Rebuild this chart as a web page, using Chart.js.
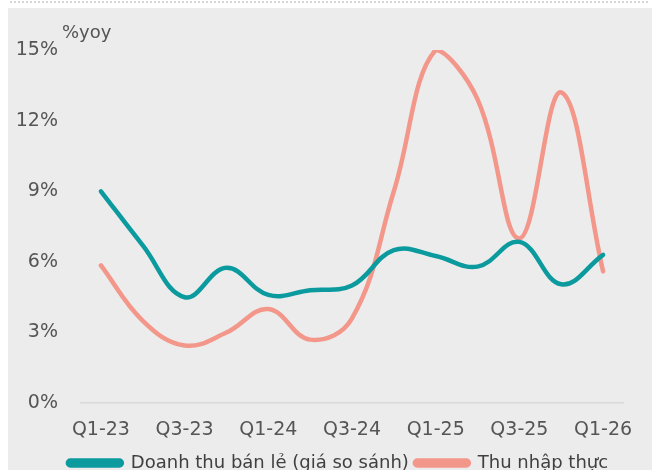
<!DOCTYPE html>
<html>
<head>
<meta charset="utf-8">
<script src="https://cdn.jsdelivr.net/npm/chart.js@4"></script>
<style>
  html, body { margin: 0; padding: 0; background: #ffffff; overflow: hidden; }
  #wrap { width: 661px; height: 482px; }
</style>
</head>
<body>
<div id="wrap"><canvas id="chart"></canvas></div>
<script>
// ==========================
// Data
// ==========================

const quarters = ["Q1-23", "Q2-23", "Q3-23", "Q4-23", "Q1-24", "Q2-24", "Q3-24",
                  "Q4-24", "Q1-25", "Q2-25", "Q3-25", "Q4-25", "Q1-26"];

const retailSales = [9.0, 6.7, 4.5, 5.75, 4.6, 4.8, 5.0, 6.5, 6.25, 5.8, 6.85, 5.05, 6.3];
const realIncome  = [5.85, 3.5, 2.45, 3.0, 4.0, 2.7, 3.6, 9.0, 15.0, 12.9, 7.0, 13.2, 5.6];

const yTicks = [0, 3, 6, 9, 12, 15];

const FONT = "'DejaVu Sans', sans-serif";
const TEXT = "#555555";

// ==========================
// Background + unit label
// ==========================

const backdrop = {
    id: "backdrop",
    afterLayout(chart) {
        // legend sits a little right of centre in the original
        chart.legend.left = 30;
        chart.legend.right = 646;
    },
    beforeDraw(chart) {
        const c = chart.ctx;
        c.save();
        c.fillStyle = "#ececec";
        c.fillRect(8, 8, 644, chart.height);
        // dotted top rule
        c.strokeStyle = "#c8c8c8";
        c.lineWidth = 1.5;
        c.setLineDash([2, 2]);
        c.beginPath();
        c.moveTo(10, 2);
        c.lineTo(650, 2);
        c.stroke();
        c.restore();
    },
    afterDraw(chart) {
        const c = chart.ctx;
        c.save();
        c.fillStyle = TEXT;
        c.font = "18px " + FONT;
        c.textBaseline = "middle";
        c.fillText("%yoy", 62, 33);
        c.restore();
    }
};

// ==========================
// Chart
// ==========================

const chart = new Chart(document.getElementById("chart"), {

    type: "line",

    data: {
        labels: quarters,
        datasets: [
            {
                label: "Doanh thu bán lẻ (giá so sánh)",
                data: retailSales,
                borderColor: "#0b9a9e",
                backgroundColor: "#0b9a9e",
                borderWidth: 4.5,
                pointRadius: 0,
                tension: 0.4,
                borderCapStyle: "round"
            },
            {
                label: "Thu nhập thực",
                data: realIncome,
                borderColor: "#f3978b",
                backgroundColor: "#f3978b",
                borderWidth: 4.5,
                pointRadius: 0,
                tension: 0.4,
                borderCapStyle: "round"
            }
        ]
    },

    options: {
        responsive: true,
        maintainAspectRatio: false,
        animation: false,
        layout: { padding: { left: 8, right: 37, top: 50, bottom: 0 } },
        plugins: {
            tooltip: { enabled: false },
            legend: {
                position: "bottom",
                labels: {
                    color: "#404040",
                    font: { family: FONT, size: 18 },
                    boxWidth: 54,
                    boxHeight: 5,
                    useBorderRadius: true,
                    borderRadius: 2.5,
                    padding: 6
                }
            }
        },
        scales: {
            x: {
                offset: true,
                grid: { display: false },
                border: { display: false },
                ticks: {
                    autoSkip: false,
                    maxRotation: 0,
                    padding: 7,
                    color: TEXT,
                    font: { family: FONT, size: 19 },
                    callback: (v, i) => (i % 2 === 0 ? quarters[i] : "")
                }
            },
            y: {
                min: 0,
                max: 15,
                afterFit: (s) => { s.width = 72; },
                afterBuildTicks: (s) => { s.ticks = yTicks.map(v => ({ value: v })); },
                border: { display: false },
                grid: {
                    drawTicks: false,
                    color: (ctx) => (ctx.tick && ctx.tick.value === 0 ? "#d9d9d9" : "rgba(0,0,0,0)"),
                    lineWidth: 1.5
                },
                ticks: {
                    padding: 22,
                    color: TEXT,
                    font: { family: FONT, size: 19 },
                    callback: (v) => v + "%"
                }
            }
        }
    },

    plugins: [backdrop]
});
</script>
</body>
</html>
